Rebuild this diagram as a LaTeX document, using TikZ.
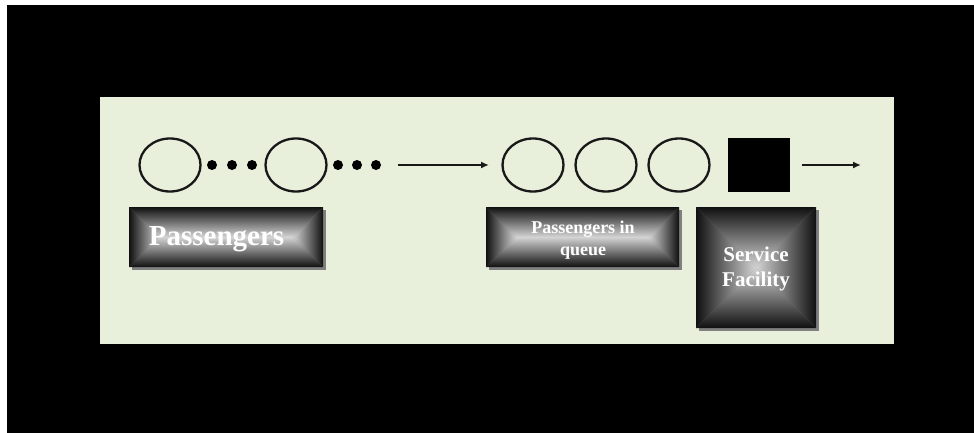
\documentclass[tikz,border=0pt]{standalone}
\usepackage{fontspec}
\setmainfont{Liberation Serif}
\usetikzlibrary{shapes.geometric,arrows.meta}

\definecolor{panelgreen}{RGB}{232,240,220}
\definecolor{edgedark}{RGB}{16,16,16}
\definecolor{midlight}{RGB}{212,212,212}
\definecolor{shadowgrey}{RGB}{128,128,128}
\definecolor{inkline}{RGB}{24,24,24}

% Bevelled box: grey drop shadow plus four shaded pieces, dark at the edges
% and light towards the middle. Arguments: left, top, right, bottom.
\newcommand\gradbox[4]{%
  \pgfmathsetmacro\gbw{#3-#1}%
  \pgfmathsetmacro\gbh{#4-#2}%
  \pgfmathsetmacro\gbd{min(\gbw,\gbh)/2}%
  \fill[shadowgrey] (#1+3,#2+3) rectangle (#3+3,#4+3);
  \fill[black!55] (#1,#2) rectangle (#3,#4);
  \shade[top color=edgedark,bottom color=midlight]
    (#1,#2) -- (#3,#2) -- (#3-\gbd,#2+\gbd) -- (#1+\gbd,#2+\gbd) -- cycle;
  \shade[top color=midlight,bottom color=edgedark]
    (#1,#4) -- (#3,#4) -- (#3-\gbd,#4-\gbd) -- (#1+\gbd,#4-\gbd) -- cycle;
  \shade[left color=edgedark,right color=midlight]
    (#1,#2) -- (#1+\gbd,#2+\gbd) -- (#1+\gbd,#4-\gbd) -- (#1,#4) -- cycle;
  \shade[left color=midlight,right color=edgedark]
    (#3,#2) -- (#3-\gbd,#2+\gbd) -- (#3-\gbd,#4-\gbd) -- (#3,#4) -- cycle;
}

\tikzset{
  person/.style={ellipse,draw=inkline,line width=2.3pt,fill=panelgreen,
    minimum width=61pt,minimum height=53pt,inner sep=0pt},
  dot/.style={circle,fill=black,minimum size=10pt,inner sep=0pt},
  server/.style={rectangle,fill=black,minimum width=62pt,minimum height=54pt,inner sep=0pt},
  flow/.style={line width=2pt,draw=inkline,-{Latex[length=8pt,width=7pt]}},
  boxtext/.style={text=white,font=\bfseries,align=center,inner sep=0pt},
}

\begin{document}
\begin{tikzpicture}[x=1pt,y=-1pt]
  \useasboundingbox (0,0) rectangle (974,433);
  \fill[white] (0,0) rectangle (974,433);
  \fill[black] (7,5) rectangle (974,433);
  \fill[panelgreen] (100,97) rectangle (894,344);

  % arriving passengers
  \node[person] (c1) at (170,165) {};
  \node[dot] (d1) at (212,165) {};
  \node[dot] (d2) at (232,165) {};
  \node[dot] (d3) at (252,165) {};
  \node[person] (c2) at (296,165) {};
  \node[dot] (d4) at (338,165) {};
  \node[dot] (d5) at (357,165) {};
  \node[dot] (d6) at (376,165) {};

  % waiting line and server
  \node[person] (q1) at (533,165) {};
  \node[person] (q2) at (606,165) {};
  \node[person] (q3) at (679,165) {};
  \node[server] (srv) at (759,165) {};

  \coordinate (inS) at (398,165);
  \coordinate (inE) at (489,165);
  \coordinate (outS) at (802,165);
  \coordinate (outE) at (861,165);
  \draw[flow] (inS) -- (inE);
  \draw[flow] (outS) -- (outE);

  % labels
  \gradbox{129}{207}{323}{267}
  \node[boxtext,anchor=base,font=\bfseries\fontsize{29}{32}\selectfont]
    (lblpass) at (216.5,245) {Passengers};

  \gradbox{486}{207}{679}{267}
  \node[boxtext,font=\bfseries\fontsize{18}{22}\selectfont]
    (lblqueue) at (583,240) {Passengers in\\queue};

  \gradbox{696}{207}{816}{328}
  \node[boxtext,font=\bfseries\fontsize{21}{25}\selectfont]
    (lblsrv) at (756,269) {Service\\Facility};
\end{tikzpicture}
\end{document}
